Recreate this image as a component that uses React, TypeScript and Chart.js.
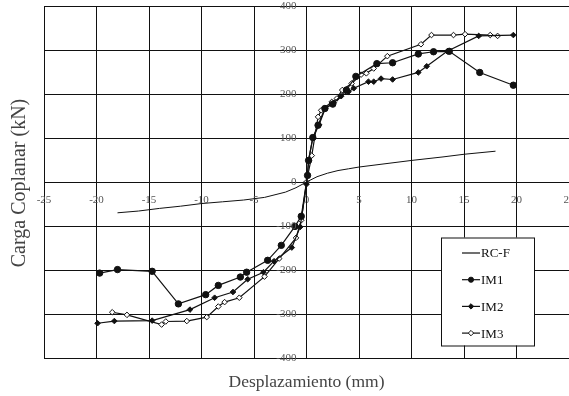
import React, { useEffect, useRef } from 'react';
import { Chart, registerables } from 'chart.js';

Chart.register(...registerables);

// ---- Data ----
const X_TITLE = 'Desplazamiento (mm)';
const Y_TITLE = 'Carga Coplanar (kN)';
const X_MIN = -25;
const X_MAX = 25;
const X_STEP = 5;
const Y_MIN = -400;
const Y_MAX = 400;
const Y_STEP = 100;

const seriesNames = ['RC-F', 'IM1', 'IM2', 'IM3'];

const rcfX = [-18, -16, -14, -12, -10, -8, -6, -4, -2, -1, 0, 1, 2, 3, 4, 5, 7, 10, 13, 15, 18];
const rcfY = [-70, -66, -60, -55, -49, -45, -41, -35, -23, -13, 0, 12, 20, 26, 30, 34, 40, 49, 57, 63, 70];

const im1X = [-19.7, -18.0, -14.7, -12.2, -9.6, -8.4, -6.3, -5.7, -3.7, -2.4, -1.1, -0.5, 0.1, 0.2, 0.6, 1.1, 1.75, 2.5, 3.8, 4.7, 6.7, 8.2, 10.65, 12.1, 13.6, 16.5, 19.7];
const im1Y = [-207, -199, -203, -277, -256, -235, -216, -205, -178, -144, -101, -78, 15, 49, 101, 129, 167, 177, 209, 240, 269, 271, 291, 296, 297, 249, 220];

const im2X = [-19.9, -18.3, -14.7, -11.1, -8.75, -7.0, -5.6, -4.1, -3.1, -1.4, -0.6, 0.0, 0.2, 0.6, 1.2, 1.8, 2.6, 3.3, 4.0, 4.5, 5.9, 6.4, 7.1, 8.2, 10.65, 11.45, 13.4, 16.4, 19.7];
const im2Y = [-321, -316, -315, -290, -263, -250, -221, -205, -180, -149, -102, -5, 50, 100, 130, 168, 180, 195, 205, 213, 228, 228, 235, 233, 249, 263, 297, 332, 334];

const im3X = [-18.5, -17.1, -13.8, -13.4, -11.4, -9.5, -8.4, -7.8, -6.4, -4.0, -2.6, -1.0, -0.5, 0.0, 0.5, 1.1, 1.4, 2.4, 2.9, 3.4, 4.3, 5.2, 5.7, 6.4, 7.7, 10.9, 11.9, 14.0, 15.1, 17.5, 18.2];
const im3Y = [-296, -302, -324, -317, -316, -307, -283, -273, -263, -215, -174, -127, -87, 0, 60, 148, 163, 182, 190, 209, 224, 244, 247, 258, 286, 313, 334, 334, 336, 334, 332];

const toPoints = (xs: number[], ys: number[]) => xs.map((x, i) => ({ x, y: ys[i] }));

const FONT = '"Liberation Serif", "Times New Roman", serif';
const INK = '#111';
const TICK_COLOR = '#555';

type MarkerStyle = { style: string; radius: number; fill: string };
const markers: MarkerStyle[] = [
  { style: 'none', radius: 0, fill: INK },
  { style: 'circle', radius: 3.2, fill: INK },
  { style: 'rectRot', radius: 2.8, fill: INK },
  { style: 'rectRot', radius: 2.8, fill: '#fff' },
];

const drawMarker = (ctx: CanvasRenderingContext2D, m: MarkerStyle, x: number, y: number) => {
  if (m.style === 'none') return;
  ctx.beginPath();
  if (m.style === 'circle') {
    ctx.arc(x, y, m.radius, 0, Math.PI * 2);
  } else {
    const r = m.radius * 1.2;
    ctx.moveTo(x, y - r);
    ctx.lineTo(x + r, y);
    ctx.lineTo(x, y + r);
    ctx.lineTo(x - r, y);
    ctx.closePath();
  }
  ctx.fillStyle = m.fill;
  ctx.fill();
  ctx.lineWidth = 1;
  ctx.strokeStyle = INK;
  ctx.stroke();
};

const zeroPadding = (scale: any) => {
  scale.paddingLeft = 0;
  scale.paddingRight = 0;
  scale.paddingTop = 0;
  scale.paddingBottom = 0;
};

const overlayPlugin = {
  id: 'overlay',
  afterDraw(chart: any) {
    const ctx: CanvasRenderingContext2D = chart.ctx;
    const area = chart.chartArea;
    const xs = chart.scales.x;
    const ys = chart.scales.y;
    ctx.save();

    // y tick labels (left of the centred y axis)
    ctx.fillStyle = TICK_COLOR;
    ctx.font = `11px ${FONT}`;
    ctx.textAlign = 'right';
    ctx.textBaseline = 'middle';
    const axisX = xs.getPixelForValue(0);
    ys.ticks.forEach((t: any) => {
      ctx.fillText(String(t.value), axisX - 10, ys.getPixelForValue(t.value));
    });

    // axis titles
    ctx.fillStyle = '#444';
    ctx.textAlign = 'center';
    ctx.textBaseline = 'middle';
    ctx.font = `17.5px ${FONT}`;
    ctx.fillText(X_TITLE, (area.left + area.right) / 2, 382);
    ctx.save();
    ctx.translate(20, (area.top + area.bottom) / 2 + 1);
    ctx.rotate(-Math.PI / 2);
    ctx.font = `20px ${FONT}`;
    ctx.fillText(Y_TITLE, 0, 0);
    ctx.restore();

    // legend box
    const bx = 441, by = 237.5, bw = 93, bh = 108;
    ctx.fillStyle = '#fff';
    ctx.fillRect(bx, by, bw, bh);
    ctx.strokeStyle = INK;
    ctx.lineWidth = 1;
    ctx.strokeRect(bx + 0.5, by + 0.5, bw, bh);
    ctx.font = `13px ${FONT}`;
    ctx.textAlign = 'left';
    ctx.textBaseline = 'middle';
    seriesNames.forEach((name, i) => {
      const y = 253 + i * 26.7;
      ctx.beginPath();
      ctx.moveTo(462, y);
      ctx.lineTo(480, y);
      ctx.strokeStyle = INK;
      ctx.lineWidth = 1.2;
      ctx.stroke();
      drawMarker(ctx, { ...markers[i], radius: markers[i].radius * 0.8 }, 471, y);
      ctx.fillStyle = INK;
      ctx.fillText(name, 481, y + 1);
    });
    ctx.restore();
  },
};

export default function App() {
  const ref = useRef<HTMLCanvasElement | null>(null);
  useEffect(() => {
    if (!ref.current) return;
    const all = [
      toPoints(rcfX, rcfY),
      toPoints(im1X, im1Y),
      toPoints(im2X, im2Y),
      toPoints(im3X, im3Y),
    ];
    const chart = new Chart(ref.current, {
      type: 'scatter',
      data: {
        datasets: all.map((pts, i) => ({
          label: seriesNames[i],
          data: pts,
          showLine: true,
          borderColor: INK,
          borderWidth: i === 0 ? 1 : 1.2,
          pointStyle: markers[i].style === 'none' ? false : (markers[i].style as any),
          pointRadius: markers[i].radius,
          pointBackgroundColor: markers[i].fill,
          pointBorderColor: INK,
          pointBorderWidth: 1,
          tension: 0,
        })),
      },
      options: {
        animation: false,
        responsive: false,
        events: [],
        layout: { padding: { left: 44, top: 6, right: 6, bottom: 38 } },
        plugins: { legend: { display: false }, tooltip: { enabled: false } },
        scales: {
          x: {
            type: 'linear',
            min: X_MIN,
            max: X_MAX,
            position: { y: 0 } as any,
            afterFit: zeroPadding,
            ticks: { stepSize: X_STEP, padding: 12, color: TICK_COLOR, font: { family: FONT, size: 11 }, maxRotation: 0, autoSkip: false },
            grid: { color: INK, lineWidth: 1, drawTicks: false },
            border: { color: INK, width: 1 },
          },
          y: {
            type: 'linear',
            min: Y_MIN,
            max: Y_MAX,
            position: { x: 0 } as any,
            afterFit: zeroPadding,
            ticks: { stepSize: Y_STEP, display: false, autoSkip: false },
            grid: { color: INK, lineWidth: 1, drawTicks: false },
            border: { color: INK, width: 1 },
          },
        },
      },
      plugins: [overlayPlugin],
    });
    return () => chart.destroy();
  }, []);
  return (
    <div style={{ position: 'fixed', left: 0, top: 0, width: 569, height: 396, overflow: 'hidden', background: '#fff' }}>
      <canvas ref={ref} width={575} height={396} style={{ display: 'block' }} />
    </div>
  );
}
